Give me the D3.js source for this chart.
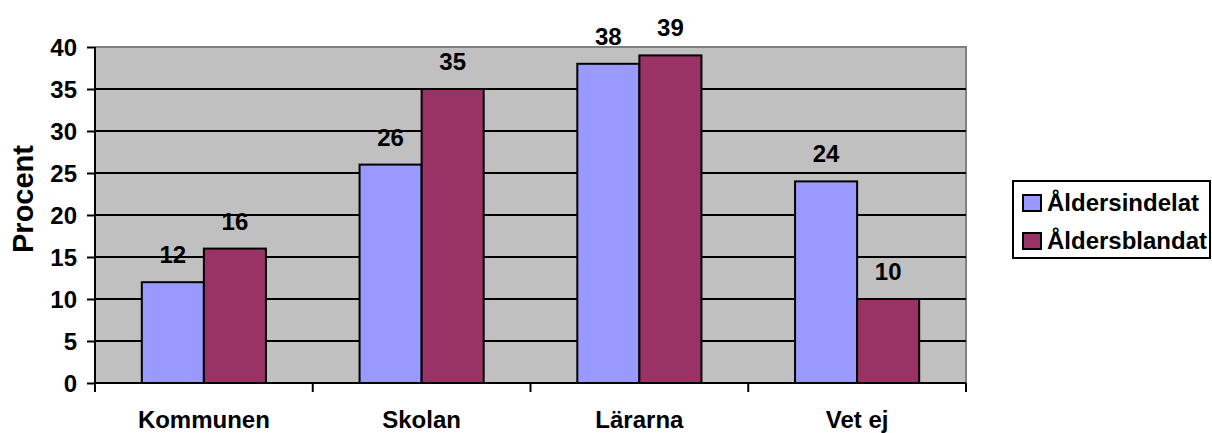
<!DOCTYPE html>
<html>
<head>
<meta charset="utf-8">
<script src="https://cdn.jsdelivr.net/npm/d3@7"></script>
<style>
  html, body { margin: 0; padding: 0; background: #fff; }
  svg text { font-family: Arial, "Liberation Sans", sans-serif; font-weight: bold; fill: #000; }
</style>
</head>
<body>
<svg id="chart" width="1212" height="433"></svg>
<script>
// --- data ---
const categories = ['Kommunen', 'Skolan', 'Lärarna', 'Vet ej'];
const seriesNames = ['Åldersindelat', 'Åldersblandat'];
const aldersindelat = [12, 26, 38, 24];
const aldersblandat = [16, 35, 39, 10];
const yTicks = [0, 5, 10, 15, 20, 25, 30, 35, 40];
const colors = ['#9999ff', '#993366'];

const svg = d3.select('#chart');
const plot = { left: 95, right: 966, top: 47, bottom: 383 };

const x = d3.scaleBand().domain(categories).range([plot.left, plot.right]).padding(0);
const gap = x.bandwidth() * 0.215;
const x1 = d3.scaleBand().domain(seriesNames).range([gap, x.bandwidth() - gap]).padding(0);
const y = d3.scaleLinear().domain([0, 40]).range([plot.bottom, plot.top]);

// plot background
svg.append('rect')
    .attr('x', plot.left).attr('y', plot.top)
    .attr('width', plot.right - plot.left).attr('height', plot.bottom - plot.top)
    .attr('fill', '#c0c0c0');

// top / right border in grey
svg.append('path')
    .attr('d', `M${plot.left},${plot.top}H${plot.right}V${plot.bottom}`)
    .attr('fill', 'none').attr('stroke', '#808080').attr('stroke-width', 2);

// gridlines
svg.append('g').selectAll('line')
    .data(yTicks.filter(t => t > 0 && t < 40))
    .enter().append('line')
    .attr('x1', plot.left).attr('x2', plot.right)
    .attr('y1', d => y(d)).attr('y2', d => y(d))
    .attr('stroke', '#000').attr('stroke-width', 2);

// bars
const rows = categories.map((c, i) => ({ cat: c, vals: [aldersindelat[i], aldersblandat[i]] }));
const groups = svg.append('g').selectAll('g')
    .data(rows).enter().append('g')
    .attr('transform', d => `translate(${x(d.cat)},0)`);

groups.selectAll('rect')
    .data(d => d.vals.map((v, j) => ({ name: seriesNames[j], v, j })))
    .enter().append('rect')
    .attr('x', d => x1(d.name))
    .attr('y', d => y(d.v))
    .attr('width', x1.bandwidth())
    .attr('height', d => y(0) - y(d.v))
    .attr('fill', d => colors[d.j])
    .attr('stroke', '#000').attr('stroke-width', 2);

groups.selectAll('text')
    .data(d => d.vals.map((v, j) => ({ name: seriesNames[j], v, j })))
    .enter().append('text')
    .attr('x', d => x1(d.name) + x1.bandwidth() / 2)
    .attr('y', d => y(d.v) - 19)
    .attr('text-anchor', 'middle')
    .style('font-size', '24px')
    .text(d => d.v);

// y axis
const yAxis = d3.axisLeft(y).tickValues(yTicks).tickSize(8).tickPadding(10);
const gy = svg.append('g').attr('transform', `translate(${plot.left},0)`).call(yAxis);
gy.select('.domain').attr('stroke', '#000').attr('stroke-width', 2).attr('d', `M0,${plot.top}V${plot.bottom + 8}`);
gy.selectAll('.tick line').attr('stroke', '#000').attr('stroke-width', 2);
gy.selectAll('.tick text').style('font-size', '24px').attr('font-family', null).attr('dy', '0.36em');

// x axis
const gx = svg.append('g').attr('transform', `translate(0,${plot.bottom})`);
gx.append('line')
    .attr('x1', plot.left).attr('x2', plot.right)
    .attr('stroke', '#000').attr('stroke-width', 2);
gx.selectAll('.xt')
    .data(categories.map(c => x(c)).concat([plot.right]))
    .enter().append('line')
    .attr('x1', d => d).attr('x2', d => d)
    .attr('y1', 0).attr('y2', 9)
    .attr('stroke', '#000').attr('stroke-width', 2);
gx.selectAll('text')
    .data(categories).enter().append('text')
    .attr('x', d => x(d) + x.bandwidth() / 2)
    .attr('y', 45)
    .attr('text-anchor', 'middle')
    .style('font-size', '24px')
    .text(d => d);

// y title
svg.append('text')
    .attr('transform', `translate(33,199) rotate(-90)`)
    .attr('text-anchor', 'middle')
    .style('font-size', '29px')
    .text('Procent');

// legend
const lg = svg.append('g');
lg.append('rect')
    .attr('x', 1013).attr('y', 181).attr('width', 197).attr('height', 77)
    .attr('fill', '#fff').attr('stroke', '#000').attr('stroke-width', 2);
const li = lg.selectAll('g.item').data(seriesNames).enter().append('g')
    .attr('transform', (d, i) => `translate(1023,${203 + i * 38})`);
li.append('rect')
    .attr('x', 0).attr('y', -8).attr('width', 18).attr('height', 16)
    .attr('fill', (d, i) => colors[i]).attr('stroke', '#000').attr('stroke-width', 2);
li.append('text')
    .attr('x', 24).attr('y', 8)
    .style('font-size', '24px')
    .text(d => d);
</script>
</body>
</html>
